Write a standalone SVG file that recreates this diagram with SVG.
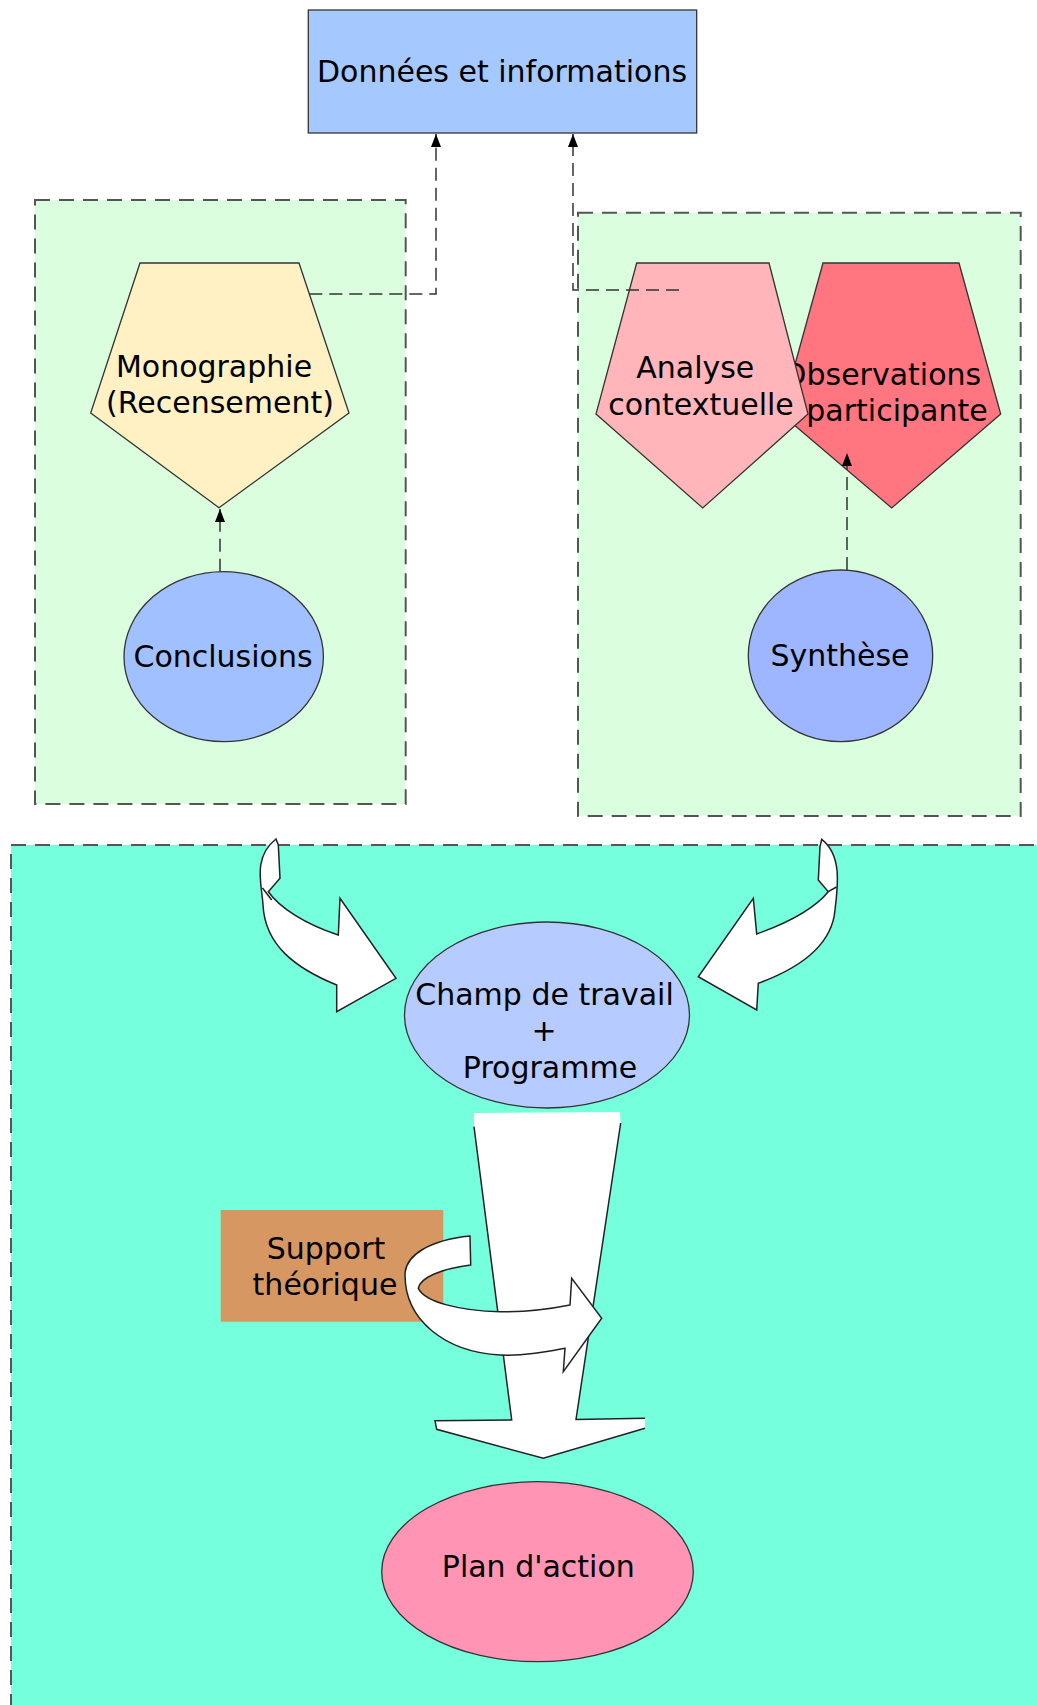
<svg xmlns="http://www.w3.org/2000/svg" width="1037" height="1705" viewBox="0 0 1037 1705">
<style>
text{font-family:"DejaVu Sans","Liberation Sans",sans-serif;font-size:30px;fill:#000;text-anchor:middle}
.grp{stroke:#555;stroke-width:2;stroke-dasharray:15 9}
.sh{stroke:#333;stroke-width:1.3}
.conn{fill:none;stroke:#333;stroke-width:1.5;stroke-dasharray:13 7}
.wa{fill:#fff;stroke:#222;stroke-width:1.5;stroke-linejoin:miter}
.ln{fill:none;stroke:#222;stroke-width:1.5}
</style>
<defs>
<marker id="ah" markerUnits="userSpaceOnUse" markerWidth="14" markerHeight="11" refX="13" refY="5" orient="auto" viewBox="0 0 14 10">
<path d="M0,0 L13,5 L0,10 z" fill="#000"/>
</marker>
</defs>
<rect width="1037" height="1705" fill="#fff"/>

<g id="groups">
<rect id="left-group" class="grp" x="35" y="200" width="370.7" height="604" fill="#DAFEDE"/>
<rect id="right-group" class="grp" x="578" y="212.7" width="442.7" height="603.3" fill="#DAFEDE"/>
<rect id="bottom-group" class="grp" x="11" y="845" width="1040" height="880" fill="#76FFDC"/>
</g>

<g id="donnees">
<rect class="sh" x="308.3" y="10" width="388.4" height="123" fill="#A5C9FF"/>
<text x="502" y="81.7">Données et informations</text>
</g>

<g id="monographie">
<polygon class="sh" points="140,263 299,263 349,413 219,507.7 90.7,413" fill="#FFF1C4"/>
<text x="214" y="376.7">Monographie</text>
<text x="220" y="413">(Recensement)</text>
</g>

<g id="observations">
<polygon class="sh" points="823,263 959,263 1000.7,414 891.7,508 781.3,414" fill="#FF7580"/>
<text x="882" y="385">Observations</text>
<text x="897" y="420.5">participante</text>
</g>

<g id="analyse">
<polygon class="sh" points="636.7,263 769,263 808,414 702.7,508 596,414" fill="#FFB5BA"/>
<text x="695.3" y="378">Analyse</text>
<text x="701" y="415">contextuelle</text>
</g>

<g id="conclusions">
<ellipse class="sh" cx="223.7" cy="656.7" rx="99.7" ry="85" fill="#A0C0FF"/>
<text x="223" y="667.3">Conclusions</text>
</g>

<g id="synthese">
<ellipse class="sh" cx="840.5" cy="655.8" rx="92.2" ry="85.8" fill="#9DB6FF"/>
<text x="840" y="666">Synthèse</text>
</g>

<g id="connectors">
<path class="conn" d="M309.3,294 L436,294 L436,134" marker-end="url(#ah)"/>
<path class="conn" d="M679,290 L573,290 L573,134" marker-end="url(#ah)"/>
<path class="conn" d="M220,571.7 L220,509" marker-end="url(#ah)"/>
<path class="conn" d="M847,570 L847,453" marker-end="url(#ah)"/>
</g>

<g id="champ">
<ellipse class="sh" cx="547" cy="1015" rx="142.5" ry="93" fill="#B6CBFF"/>
<text x="544.5" y="1005">Champ de travail</text>
<text x="544" y="1041">+</text>
<text x="550" y="1078">Programme</text>
</g>

<g id="support">
<rect x="220.7" y="1210" width="222.6" height="111.7" fill="#D69762"/>
<text x="326" y="1259.3">Support</text>
<text x="325" y="1295">théorique</text>
</g>

<g id="plan">
<ellipse class="sh" cx="537.5" cy="1571.7" rx="155.8" ry="90" fill="#FF94B5"/>
<text x="538.3" y="1576.7">Plan d'action</text>
</g>

<g id="block-arrows">
<path class="wa" d="M276,839 L278.3,845 L280,878.3 L268.3,891.7 C280,908 305,924 338.3,935 L340,898.3 L396,978.3 L336.7,1011.7 L336.7,985 C295,968 265,945 263,905 C262,885 252,858 276,839 Z"/>
<polyline class="ln" points="262.5,888 271.7,900"/>
<path class="wa" d="M821.7,839.3 C842,855 838,885 835,910 C832,945 800,968 758.3,983.3 L756.7,1010 L698.3,976.7 L753.3,898.3 L756.7,934 C790,922 815,908 828.3,891.7 L818.3,880 L820,846.7 Z"/>
<polyline class="ln" points="828.3,891.7 836.5,887"/>
<polygon points="474,1113 620,1112 620.7,1123 576,1419.5 645,1418.3 645,1428.3 543.3,1458.3 436.7,1429.3 435,1420.7 511.7,1420 474,1126.7" fill="#fff"/>
<path class="ln" d="M474,1126.7 L511.7,1420 L435,1420.7 L436.7,1429.3 L543.3,1458.3 L645,1428.3 M645,1418.3 L576,1419.5 L620.7,1123"/>
<path class="wa" d="M470,1236 C430,1240 405,1255 405,1275 C405,1320 445,1352 500,1355 C525,1356 545,1352 565,1348.3 L563.3,1371.7 L601.7,1318.3 L571.7,1278.3 L570,1305 C545,1310 520,1312 500,1311.7 C460,1311 425,1302 418.3,1288.3 C420,1278 440,1269 470.7,1265 Z"/>
</g>
</svg>
